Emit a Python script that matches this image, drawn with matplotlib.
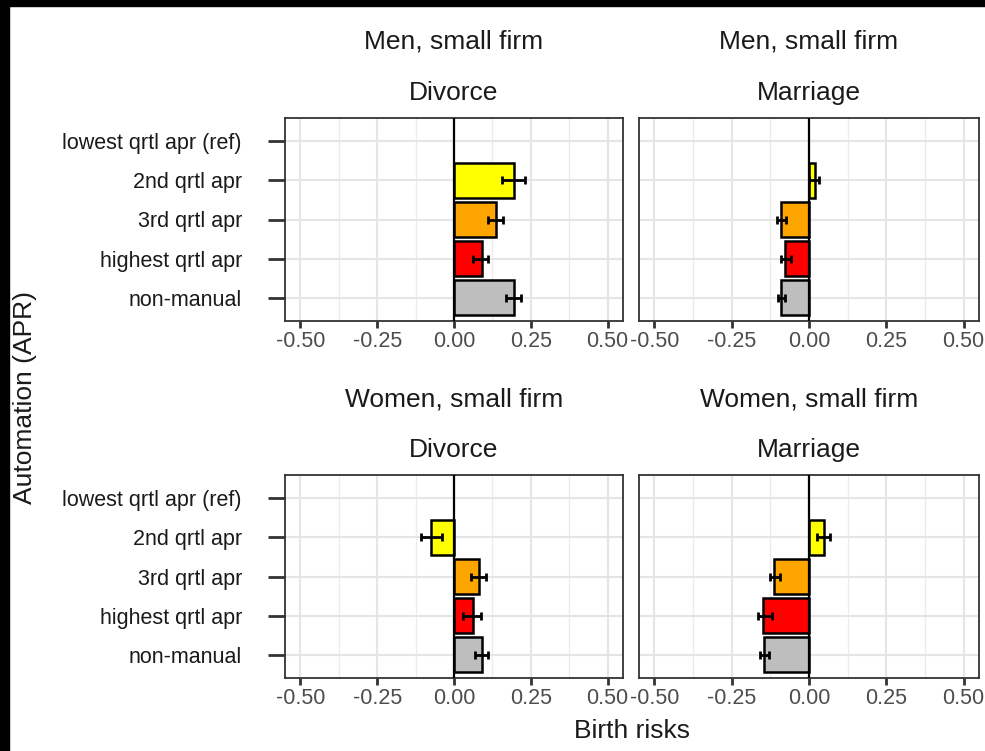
import numpy as np
import matplotlib.pyplot as plt
from matplotlib.patches import Rectangle

plt.rcParams['font.family'] = ['Liberation Sans', 'DejaVu Sans']

# categories (top to bottom)
cats = ["lowest qrtl apr (ref)", "2nd qrtl apr", "3rd qrtl apr", "highest qrtl apr", "non-manual"]
colores = ["#FFFFFF", "#FFFF00", "#FFA500", "#FF0000", "#BEBEBE"]

# estimates and confidence limits per panel (ref category has no bar)
men_div = [np.nan, 0.194, 0.137, 0.090, 0.194]
men_div_lo = [np.nan, 0.157, 0.111, 0.062, 0.168]
men_div_hi = [np.nan, 0.232, 0.160, 0.112, 0.217]

men_mar = [np.nan, 0.018, -0.089, -0.077, -0.089]
men_mar_lo = [np.nan, 0.000, -0.102, -0.091, -0.100]
men_mar_hi = [np.nan, 0.032, -0.075, -0.059, -0.077]

wom_div = [np.nan, -0.074, 0.081, 0.062, 0.091]
wom_div_lo = [np.nan, -0.107, 0.054, 0.029, 0.069]
wom_div_hi = [np.nan, -0.038, 0.104, 0.087, 0.112]

wom_mar = [np.nan, 0.048, -0.113, -0.148, -0.145]
wom_mar_lo = [np.nan, 0.027, -0.127, -0.166, -0.158]
wom_mar_hi = [np.nan, 0.068, -0.095, -0.121, -0.131]

xticks = [-0.50, -0.25, 0.00, 0.25, 0.50]
xticklabels = ["-0.50", "-0.25", "0.00", "0.25", "0.50"]

W, H = 985, 751
fig = plt.figure(figsize=(W / 100, H / 100), dpi=100)

def panel(x0, y0, x1, y1):
    return fig.add_axes([x0 / W, 1 - y1 / H, (x1 - x0) / W, (y1 - y0) / H])

def dibujar(ax, vals, lo, hi, titulo1, titulo2, ylabels):
    y = np.arange(1, len(cats) + 1)
    vals = np.array(vals)
    lo = np.array(lo)
    hi = np.array(hi)
    ax.set_axisbelow(True)
    ax.set_xlim(-0.55, 0.55)
    ax.set_ylim(5.6, 0.4)
    # grid like theme_bw
    for m in [-0.375, -0.125, 0.125, 0.375]:
        ax.axvline(m, color="#EBEBEB", lw=0.9, zorder=0)
    for m in xticks:
        ax.axvline(m, color="#E5E5E5", lw=1.5, zorder=0)
    for yy in y:
        ax.axhline(yy, color="#E5E5E5", lw=1.5, zorder=0)
    ax.barh(y, vals, height=0.9, color=colores, edgecolor="black", linewidth=1.8, zorder=2)
    ax.axvline(0, color="black", lw=1.6, zorder=3)
    ax.errorbar((lo + hi) / 2, y, xerr=(hi - lo) / 2, fmt="none", ecolor="black",
                elinewidth=2.0, capsize=3, capthick=2.0, zorder=4)
    ax.set_xticks(xticks)
    ax.set_xticklabels(xticklabels, fontsize=15.5, color="#4D4D4D")
    ax.tick_params(axis="x", length=5, width=2.0, color="#333333", pad=2)
    ax.set_yticks(y)
    if ylabels:
        ax.set_yticklabels(cats, fontsize=15.5, color="#1A1A1A")
        ax.tick_params(axis="y", length=12, width=2.0, color="#333333", pad=19)
    else:
        ax.set_yticklabels([])
        ax.tick_params(axis="y", length=0)
    for s in ax.spines.values():
        s.set_color("#333333")
        s.set_linewidth(1.3)
    ax.text(0.5, 1.0 + 76 / 203, titulo1, transform=ax.transAxes, ha="center", va="center", fontsize=19, color="#1A1A1A")
    ax.text(0.5, 1.0 + 25 / 203, titulo2, transform=ax.transAxes, ha="center", va="center", fontsize=19, color="#1A1A1A")

ax1 = panel(285, 118, 623, 321)
dibujar(ax1, men_div, men_div_lo, men_div_hi, "Men, small firm", "Divorce", True)
ax2 = panel(639, 118, 979, 321)
dibujar(ax2, men_mar, men_mar_lo, men_mar_hi, "Men, small firm", "Marriage", False)
ax3 = panel(285, 475, 623, 678)
dibujar(ax3, wom_div, wom_div_lo, wom_div_hi, "Women, small firm", "Divorce", True)
ax4 = panel(639, 475, 979, 678)
dibujar(ax4, wom_mar, wom_mar_lo, wom_mar_hi, "Women, small firm", "Marriage", False)

fig.text(632 / W, 1 - 731 / H, "Birth risks", ha="center", va="center", fontsize=19, color="#1A1A1A")
fig.text(25 / W, 1 - 398 / H, "Automation (APR)", ha="center", va="center", rotation=90, fontsize=19, color="#1A1A1A")

# black border bands of the original screenshot
fig.add_artist(Rectangle((0, 1 - 6 / H), 1, 6 / H, transform=fig.transFigure, color="black"))
fig.add_artist(Rectangle((0, 0), 9 / W, 1, transform=fig.transFigure, color="black"))

plt.savefig("out.png", dpi=100)
